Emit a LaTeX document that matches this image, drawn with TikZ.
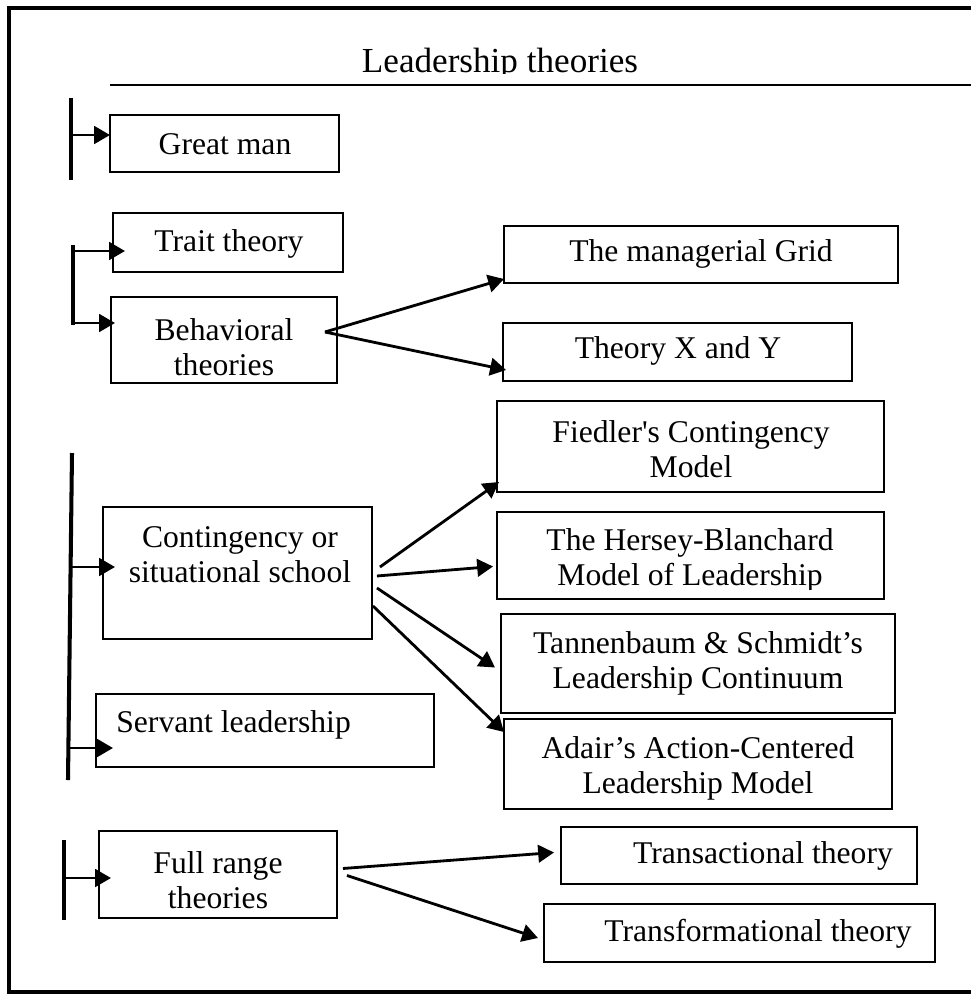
\documentclass[tikz,border=0pt]{standalone}
\usepackage{fontspec}
\setmainfont{Liberation Serif}
\usetikzlibrary{arrows.meta,calc}
\tikzset{
  box/.style={draw, line width=0.7pt, inner sep=0pt, outer sep=0pt, anchor=north west},
  txt/.style={inner sep=0pt, align=center, font=\fontsize{18}{19.8}\selectfont},
  arr/.style={line width=1.6pt, -{Triangle[length=9pt,width=10pt]}},
  bar/.style={line width=2.3pt},
  frame/.style={line width=2.4pt},
}
\begin{document}
\begin{tikzpicture}[x=0.02cm, y=-0.02cm]
\useasboundingbox (0,0) rectangle (971,994);
% frame
\draw[frame] (971,8) -- (9,8) -- (9,992) -- (971,992);
\draw[line width=1.1pt] (110,85) -- (971,85);
\begin{scope}
\clip (0,0) rectangle (971,73);
\node[txt, font=\fontsize{20}{22}\selectfont, anchor=base] (title) at (500,72) {Leadership theories};
\end{scope}

% boxes
\node[box, minimum width=4.58cm, minimum height=1.14cm] (gm) at (110,115) {};
\node[box, minimum width=4.60cm, minimum height=1.18cm] (trait) at (113,213) {};
\node[box, minimum width=4.52cm, minimum height=1.72cm] (beh) at (111,297) {};
\node[box, minimum width=7.88cm, minimum height=1.14cm] (grid) at (504,226) {};
\node[box, minimum width=6.98cm, minimum height=1.16cm] (thxy) at (503,323) {};
\node[box, minimum width=7.74cm, minimum height=1.82cm] (fied) at (497,401) {};
\node[box, minimum width=7.74cm, minimum height=1.74cm] (hers) at (497,512) {};
\node[box, minimum width=7.88cm, minimum height=1.98cm] (tann) at (501,614) {};
\node[box, minimum width=7.76cm, minimum height=1.80cm] (adair) at (504,719) {};
\node[box, minimum width=5.38cm, minimum height=2.64cm] (cont) at (103,507) {};
\node[box, minimum width=6.76cm, minimum height=1.46cm] (serv) at (96,694) {};
\node[box, minimum width=4.76cm, minimum height=1.74cm] (full) at (99,831) {};
\node[box, minimum width=7.12cm, minimum height=1.14cm] (trac) at (561,827) {};
\node[box, minimum width=7.82cm, minimum height=1.16cm] (trfm) at (544,904) {};

% texts
\node[txt] (t-gm) at (225,144) {Great man};
\node[txt] (t-trait) at (229,244) {Trait theory};
\node[txt] (t-beh) at (224,347) {Behavioral\\theories};
\node[txt] (t-grid) at (701,254) {The managerial Grid};
\node[txt] (t-thxy) at (678,351) {Theory X and Y};
\node[txt] (t-fied) at (691,449) {Fiedler\textquotesingle s Contingency\\Model};
\begin{scope}
\clip (497,512) rectangle (884,589);
\node[txt] (t-hers) at (690,560) {The Hersey-Blanchard\\Model of Leadership};
\end{scope}
\node[txt] (t-tann) at (698,663) {Tannenbaum \& Schmidt’s\\Leadership Continuum};
\node[txt] (t-adair) at (698,768) {Adair’s Action-Centered\\Leadership Model};
\node[txt] (t-cont) at (240,555) {Contingency or\\situational school};
\node[txt, anchor=west] (t-serv) at (116,725) {Servant leadership};
\node[txt] (t-full) at (218,880) {Full range\\theories};
\node[txt] (t-trac) at (763,856) {Transactional theory};
\node[txt] (t-trfm) at (758,934) {Transformational theory};

% bars and their arrows
\coordinate (b1t) at (71,98); \coordinate (b1b) at (71,180); \coordinate (b1a) at (71,135);
\draw[bar] (b1t) -- (b1b);
\draw[arr] (b1a) -- (b1a -| gm.west);

\coordinate (b2t) at (73,245); \coordinate (b2b) at (73,325);
\coordinate (b2a) at (73,251); \coordinate (b2c) at (73,323);
\draw[bar] (b2t) -- (b2b);
\draw[arr] (b2a) -- ($(b2a -| trait.west)+(12,0)$);
\draw[arr] (b2c) -- ($(b2c -| beh.west)+(4,0)$);

\coordinate (b3t) at (72,453); \coordinate (b3b) at (68,780);
\coordinate (b3a) at (71,567); \coordinate (b3c) at (69,748);
\draw[bar] (b3t) -- (b3b);
\draw[arr] (b3a) -- ($(b3a -| cont.west)+(12,0)$);
\draw[arr] (b3c) -- ($(b3c -| serv.west)+(17,0)$);

\coordinate (b4t) at (64,840); \coordinate (b4b) at (64,920); \coordinate (b4a) at (64,878);
\draw[bar] (b4t) -- (b4b);
\draw[arr] (b4a) -- ($(b4a -| full.west)+(12,0)$);

% behavioral arrows
\draw[arr] ($(beh.east)+(-12,-8)$) -- ($(grid.south west)+(0,-4)$);
\draw[arr] ($(beh.east)+(-12,-8)$) -- ($(thxy.west)+(3,18)$);

% contingency arrows
\draw[arr] ($(cont.east)+(8,-6)$) -- ($(fied.south west)+(2,-10)$);
\draw[arr] ($(cont.east)+(5,3)$) -- ($(hers.west)+(-4,11)$);
\draw[arr] ($(cont.east)+(5,15)$) -- ($(tann.west)+(-6,4)$);
\draw[arr] ($(cont.east)+(1,33)$) -- ($(adair.north west)+(0,13)$);

% full range arrows
\draw[arr] ($(full.east)+(6,-6)$) -- ($(trac.west)+(-7,-3)$);
\draw[arr] ($(full.east)+(10,1)$) -- ($(trfm.west)+(-6,5)$);
\end{tikzpicture}
\end{document}
